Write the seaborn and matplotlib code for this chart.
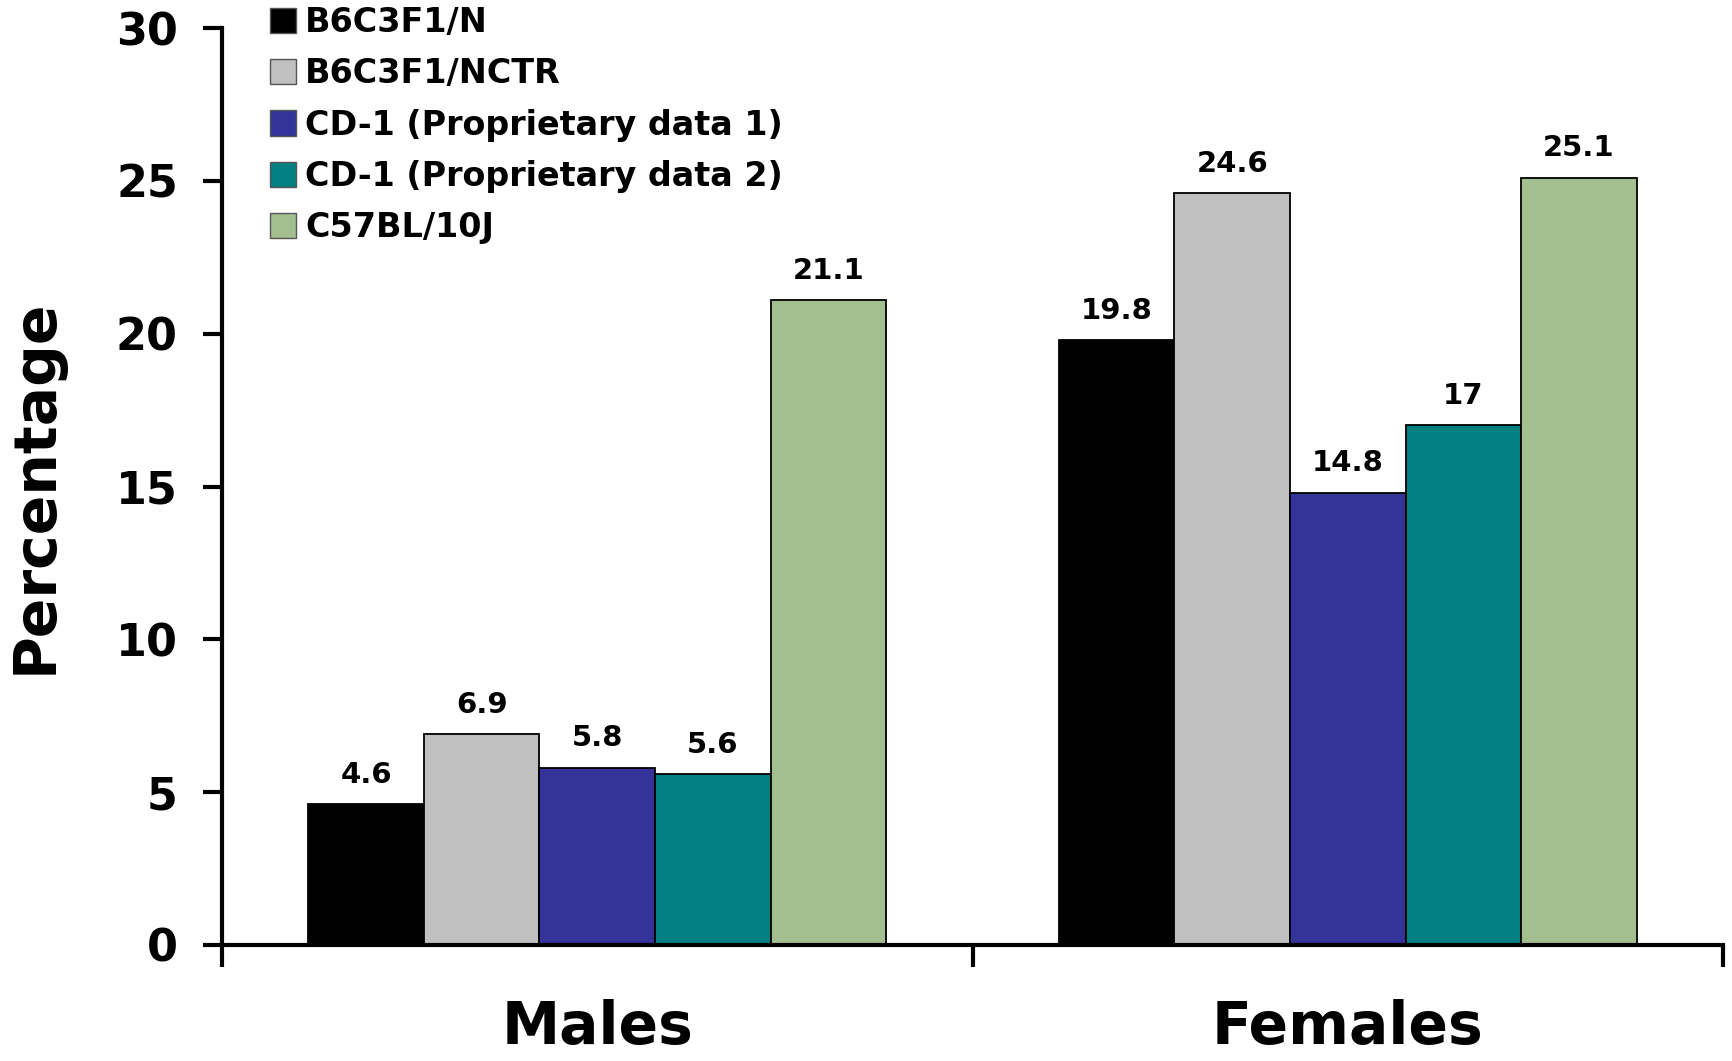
import numpy as np
import pandas as pd
import matplotlib
matplotlib.use("Agg")
import matplotlib.pyplot as plt
import seaborn as sns

sexes = ["Males", "Females"]
strains = ["B6C3F1/N", "B6C3F1/NCTR", "CD-1 (Proprietary data 1)",
           "CD-1 (Proprietary data 2)", "C57BL/10J"]
males = [4.6, 6.9, 5.8, 5.6, 21.1]
females = [19.8, 24.6, 14.8, 17, 25.1]
colors = ["#000000", "#C0C0C0", "#333399", "#008080", "#A3BF8F"]

rows = []
for s, vals in zip(sexes, [males, females]):
    for st, v in zip(strains, vals):
        rows.append({"sex": s, "strain": st, "pct": v})
df = pd.DataFrame(rows)

sns.set_theme(style="white")
plt.rcParams["font.family"] = ["DejaVu Sans"]
plt.rcParams["font.weight"] = "bold"
plt.rcParams["text.color"] = "black"
plt.rcParams["axes.labelcolor"] = "black"
plt.rcParams["xtick.color"] = "black"
plt.rcParams["ytick.color"] = "black"

fig = plt.figure(figsize=(17.32, 10.61), dpi=100)
L, R, B, T = 222 / 1732, 1723 / 1732, 1 - 945 / 1061, 1 - 28 / 1061
ax = fig.add_axes([L, B, R - L, T - B])

sns.barplot(data=df, x="sex", y="pct", hue="strain", order=sexes,
            hue_order=strains, palette=colors, saturation=1, width=0.77,
            edgecolor="black", linewidth=1.3, errorbar=None, ax=ax)

for cont, st in zip(ax.containers, strains):
    vals = df[df.strain == st]["pct"].tolist()
    ax.bar_label(cont, labels=[f"{v:g}" for v in vals], padding=11,
                 fontsize=21, fontweight="bold", color="black")

ax.set_xlim(-0.5, 1.5)
ax.set_ylim(0, 30)
ax.set_yticks(np.arange(0, 31, 5))
for sp in ["top", "right"]:
    ax.spines[sp].set_visible(False)
for sp in ["left", "bottom"]:
    ax.spines[sp].set_linewidth(3.0)
    ax.spines[sp].set_color("black")

ax.tick_params(axis="y", left=True, length=13.7, width=3.0, direction="out",
               labelsize=32, pad=18, colors="black")
ax.set_xticks([0, 1])
ax.set_xticklabels(sexes)
ax.set_xticks([-0.5, 0.5, 1.5], minor=True)
ax.tick_params(axis="x", which="major", bottom=True, length=0, labelsize=42,
               pad=39, colors="black")
ax.tick_params(axis="x", which="minor", bottom=True, length=16, width=3.0,
               direction="out", color="black")
for lab in ax.get_xticklabels() + ax.get_yticklabels():
    lab.set_fontweight("bold")

ax.set_xlabel("")
ax.set_ylabel("Percentage", fontsize=42, fontweight="bold", va="center",
              color="black")
ax.yaxis.set_label_coords((35 - 222) / 1501, 0.5)

handles, labels = ax.get_legend_handles_labels()
ax.get_legend().remove()
for h in handles:
    h.set_edgecolor("#555555")
    h.set_linewidth(1.0)
fig.legend(handles, labels, loc="upper left",
           bbox_to_anchor=(270 / 1732, 1 - 6 / 1061), frameon=False,
           prop={"size": 24, "weight": "bold"}, handlelength=0.79,
           handleheight=0.79, handletextpad=0.27, labelspacing=0.55,
           borderpad=0, borderaxespad=0, labelcolor="black")

fig.savefig("out.png", dpi=100)
